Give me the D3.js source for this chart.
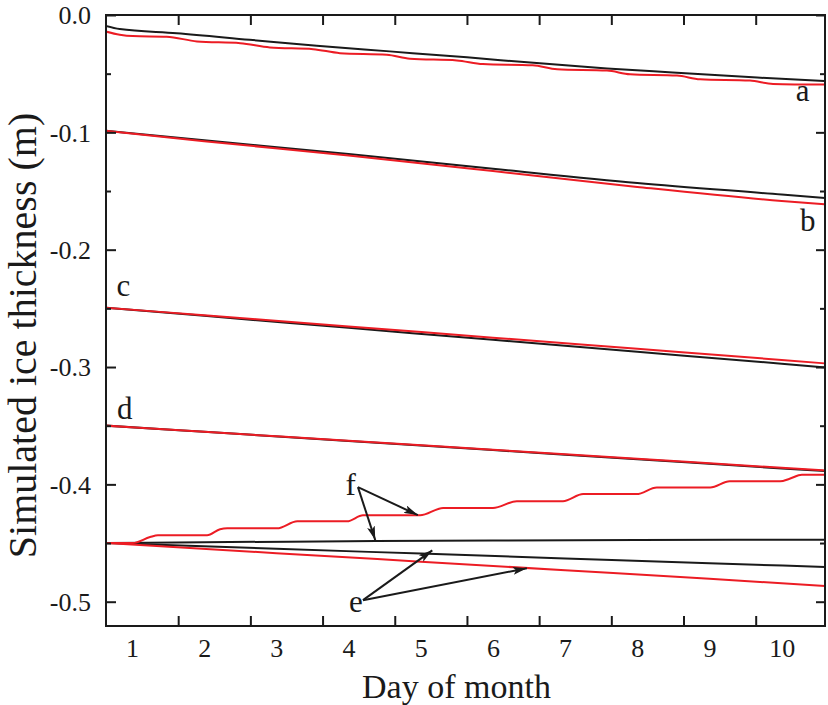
<!DOCTYPE html>
<html>
<head>
<meta charset="utf-8">
<script src="https://cdn.jsdelivr.net/npm/d3@7"></script>
<style>
  body { margin: 0; background: #fff; }
  text { font-family: "Liberation Serif", "Times New Roman", Times, serif; fill: #1a1a1a; }
</style>
</head>
<body>
<div id="chart"></div>
<script>
// ---- data: [day, ice thickness (m)] ----
var aBlack = [[0.63,-0.0092],[0.83,-0.0120],[1.62,-0.0155],[2.63,-0.0211],[3.56,-0.0262],[4.57,-0.0310],
              [5.64,-0.0361],[6.65,-0.0412],[7.58,-0.0455],[8.49,-0.0490],[9.66,-0.0533],[10.6,-0.0563]];
var aRed   = [[0.63,-0.0140],[0.83,-0.0168],[1.01,-0.0180],[1.48,-0.0185],[1.90,-0.0225],[2.50,-0.0240],
              [2.91,-0.0276],[3.51,-0.0291],[3.88,-0.0325],[4.53,-0.0338],[4.85,-0.0372],[5.50,-0.0387],
              [5.86,-0.0418],[6.55,-0.0429],[6.89,-0.0463],[7.58,-0.0474],[7.90,-0.0505],[8.55,-0.0516],
              [8.87,-0.0548],[9.56,-0.0559],[9.88,-0.0587],[10.6,-0.0593]];
var bBlack = [[0.63,-0.0986],[2,-0.1068],[4,-0.1185],[6,-0.1310],[8,-0.1432],[10,-0.1530],[10.6,-0.1560]];
var bRed   = [[0.63,-0.0986],[2,-0.1075],[4,-0.1198],[6,-0.1330],[8,-0.1465],[10,-0.1585],[10.6,-0.1614]];
var cBlack = [[0.63,-0.2494],[2,-0.2564],[4,-0.2666],[6,-0.2768],[8,-0.2870],[10,-0.2972],[10.6,-0.3003]];
var cRed   = [[0.63,-0.2494],[2,-0.2559],[4,-0.2654],[6,-0.2750],[8,-0.2845],[10,-0.2940],[10.6,-0.2969]];
var dBlack = [[0.63,-0.3499],[2,-0.3552],[4,-0.3630],[6,-0.3708],[8,-0.3786],[10,-0.3864],[10.6,-0.3887]];
var dRed   = [[0.63,-0.3499],[2,-0.3552],[4,-0.3628],[6,-0.3705],[8,-0.3782],[10,-0.3859],[10.6,-0.3882]];
var eBlack = [[0.63,-0.4500],[3,-0.4549],[5,-0.4590],[7,-0.4631],[9,-0.4672],[10.6,-0.4704]];
var eRed   = [[0.63,-0.4500],[3,-0.4586],[5,-0.4659],[7,-0.4732],[9,-0.4805],[10.6,-0.4866]];
var fBlack = [[0.63,-0.4500],[2,-0.4493],[4,-0.4485],[6,-0.4478],[8,-0.4474],[10.6,-0.4471]];
var fRed   = [[0.63,-0.4500],[1.01,-0.4500],[1.25,-0.4449],[1.36,-0.4434],[2.04,-0.4434],[2.22,-0.4383],
              [2.32,-0.4375],[3.01,-0.4375],[3.29,-0.4315],[3.98,-0.4315],[4.20,-0.4264],[4.99,-0.4264],
              [5.31,-0.4202],[6.00,-0.4202],[6.33,-0.4144],[6.97,-0.4144],[7.25,-0.4083],[7.99,-0.4083],
              [8.27,-0.4027],[9.01,-0.4027],[9.28,-0.3974],[9.98,-0.3974],[10.11,-0.3952],[10.28,-0.3918],
              [10.6,-0.3918]];

var blackSeries = [aBlack, bBlack, cBlack, dBlack, eBlack, fBlack];
var redSeries   = [aRed, bRed, cRed, dRed, eRed, fRed];

// axis ticks
var dayLabels  = [1,2,3,4,5,6,7,8,9,10];
var xTickMarks = [1.64,2.64,3.64,4.64,5.64,6.64,7.64,8.64,9.64];
var yMajor = [0,-0.1,-0.2,-0.3,-0.4,-0.5];
var yMinor = [-0.05,-0.15,-0.25,-0.35,-0.45];

// curve labels
var labelText  = ["a","b","c","d","f","e"];
var labelDay   = [10.29,10.36,0.88,0.90,4.03,4.10];
var labelValue = [-0.0736,-0.1841,-0.2394,-0.3440,-0.4094,-0.5085];

// annotation arrows [from, to] in data units
var arrowFrom = [[4.13,-0.4024],[4.13,-0.4024],[4.20,-0.4987],[4.20,-0.4987]];
var arrowTo   = [[4.96,-0.4262],[4.37,-0.4475],[5.16,-0.4562],[6.47,-0.4715]];

// ---- layout ----
var margin = {top: 15, right: 3, bottom: 79, left: 106},
    width = 828 - margin.left - margin.right,
    height = 705 - margin.top - margin.bottom;

var svg = d3.select("#chart")
  .append("svg")
    .attr("width", 828)
    .attr("height", 705)
  .append("g")
    .attr("transform", "translate(" + margin.left + "," + margin.top + ")");

var x = d3.scaleLinear().domain([0.64, 10.6]).range([0, width]);
var y = d3.scaleLinear().domain([-0.5207, 0]).range([height, 0]);

var defs = svg.append("defs");
defs.append("clipPath").attr("id", "clip")
  .append("rect").attr("width", width).attr("height", height);
defs.append("marker")
    .attr("id", "head")
    .attr("markerUnits", "userSpaceOnUse")
    .attr("viewBox", "0 0 14 8")
    .attr("refX", 14).attr("refY", 4)
    .attr("markerWidth", 14).attr("markerHeight", 8)
    .attr("orient", "auto")
  .append("path")
    .attr("d", "M0,0L14,4L0,8L3,4Z")
    .attr("fill", "#1a1a1a");

// lines
var line = d3.line()
  .x(function(d) { return x(d[0]); })
  .y(function(d) { return y(d[1]); })
  .curve(d3.curveMonotoneX);

var plot = svg.append("g").attr("clip-path", "url(#clip)");
blackSeries.forEach(function(s) {
  plot.append("path").datum(s)
    .attr("d", line).attr("fill", "none")
    .attr("stroke", "#1a1a1a").attr("stroke-width", 2);
});
redSeries.forEach(function(s) {
  plot.append("path").datum(s)
    .attr("d", line).attr("fill", "none")
    .attr("stroke", "#ec1c24").attr("stroke-width", 2);
});

// axes (ticks pointing inward)
function clean(g) {
  g.select(".domain").remove();
  g.selectAll("line").attr("stroke", "#1a1a1a").attr("stroke-width", 2);
}
svg.append("g").attr("transform", "translate(0," + height + ")")
  .call(d3.axisBottom(x).tickValues(xTickMarks).tickSize(-10).tickFormat(""))
  .call(clean);
svg.append("g")
  .call(d3.axisTop(x).tickValues(xTickMarks).tickSize(-10).tickFormat(""))
  .call(clean);
svg.append("g").attr("transform", "translate(0," + height + ")")
  .call(d3.axisBottom(x).tickValues(dayLabels).tickSize(0).tickPadding(13))
  .call(function(g) {
    g.select(".domain").remove();
    g.selectAll("text").style("font-size", "26px").attr("fill", "#1a1a1a");
  });

svg.append("g")
  .call(d3.axisLeft(y).tickValues(yMinor).tickSize(-5).tickFormat(""))
  .call(clean);
svg.append("g")
  .call(d3.axisLeft(y).tickValues(yMajor).tickSize(-10).tickPadding(15)
    .tickFormat(function(d) { return d.toFixed(1); }))
  .call(clean)
  .call(function(g) {
    g.selectAll("text").style("font-size", "26px").attr("dy", "0.34em").attr("fill", "#1a1a1a");
  });
svg.append("g").attr("transform", "translate(" + width + ",0)")
  .call(d3.axisRight(y).tickValues(yMinor).tickSize(-5).tickFormat(""))
  .call(clean);
svg.append("g").attr("transform", "translate(" + width + ",0)")
  .call(d3.axisRight(y).tickValues(yMajor).tickSize(-9).tickFormat(""))
  .call(clean);

// frame
svg.append("rect")
  .attr("width", width).attr("height", height)
  .attr("fill", "none").attr("stroke", "#1a1a1a").attr("stroke-width", 2);

// axis titles
svg.append("text")
  .attr("x", 456.5 - margin.left).attr("y", height + 72)
  .attr("text-anchor", "middle")
  .style("font-size", "34px")
  .text("Day of month");
svg.append("text")
  .attr("transform", "translate(" + (36 - margin.left) + "," + (335.5 - margin.top) + ")rotate(-90)")
  .attr("text-anchor", "middle")
  .style("font-size", "40px")
  .text("Simulated ice thickness (m)");

// curve labels
svg.selectAll(".lab")
  .data(labelText)
  .enter()
  .append("text")
    .attr("class", "lab")
    .attr("x", function(d, i) { return x(labelDay[i]); })
    .attr("y", function(d, i) { return y(labelValue[i]); })
    .attr("text-anchor", "middle")
    .style("font-size", "31px")
    .text(function(d) { return d; });

// arrows
svg.selectAll(".arrow")
  .data(arrowFrom)
  .enter()
  .append("line")
    .attr("class", "arrow")
    .attr("x1", function(d) { return x(d[0]); })
    .attr("y1", function(d) { return y(d[1]); })
    .attr("x2", function(d, i) { return x(arrowTo[i][0]); })
    .attr("y2", function(d, i) { return y(arrowTo[i][1]); })
    .attr("stroke", "#1a1a1a").attr("stroke-width", 2)
    .attr("marker-end", "url(#head)");
</script>
</body>
</html>
